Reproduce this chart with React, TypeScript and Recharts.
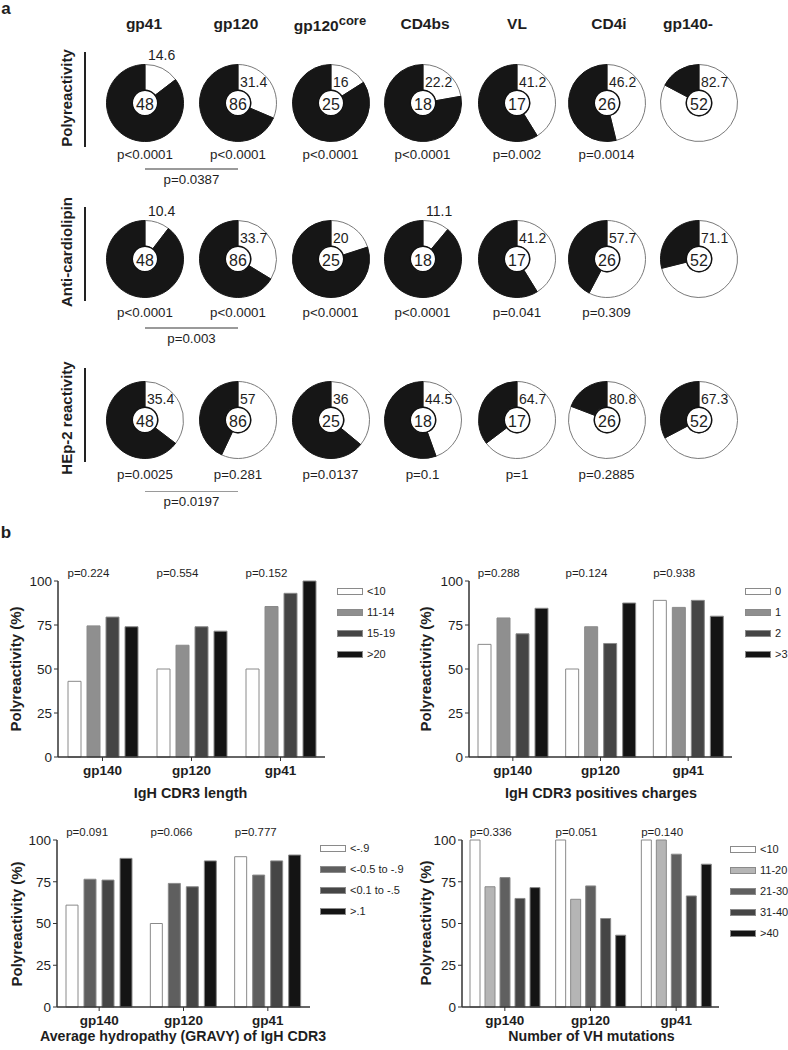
import React from "react";
import { PieChart, Pie, Cell, BarChart, Bar, XAxis, YAxis } from "recharts";

const FONT = 'Arial, "Liberation Sans", Helvetica, sans-serif';

// ---- panel a: donuts ----
const targets = ["gp41", "gp120", "gp120", "CD4bs", "VL", "CD4i", "gp140-"];
const mabCounts = [48, 86, 25, 18, 17, 26, 52];
const polyPct = [14.6, 31.4, 16, 22.2, 41.2, 46.2, 82.7];
const cardioPct = [10.4, 33.7, 20, 11.1, 41.2, 57.7, 71.1];
const hep2Pct = [35.4, 57, 36, 44.5, 64.7, 80.8, 67.3];
const polyP = ["p<0.0001", "p<0.0001", "p<0.0001", "p<0.0001", "p=0.002", "p=0.0014", ""];
const cardioP = ["p<0.0001", "p<0.0001", "p<0.0001", "p<0.0001", "p=0.041", "p=0.309", ""];
const hep2P = ["p=0.0025", "p=0.281", "p=0.0137", "p=0.1", "p=1", "p=0.2885", ""];
const pairP = ["p=0.0387", "p=0.003", "p=0.0197"];
const rowNames = ["Polyreactivity", "Anti-cardiolipin", "HEp-2 reactivity"];

// ---- panel b: bars ----
const groups = ["gp140", "gp120", "gp41"];

const lenNames = ["<10", "11-14", "15-19", ">20"];
const lenLt10 = [43, 50, 50];
const len11to14 = [74.5, 63.5, 85.5];
const len15to19 = [79.5, 74, 93];
const lenGt20 = [74, 71.5, 100];
const lenP = ["p=0.224", "p=0.554", "p=0.152"];

const chargeNames = ["0", "1", "2", ">3"];
const charge0 = [64, 50, 89];
const charge1 = [79, 74, 85];
const charge2 = [70, 64.5, 89];
const chargeGt3 = [84.5, 87.5, 80];
const chargeP = ["p=0.288", "p=0.124", "p=0.938"];

const gravyNames = ["<-.9", "<-0.5 to -.9", "<0.1 to -.5", ">.1"];
const gravyA = [61, 50, 90];
const gravyB = [76.5, 74, 79];
const gravyC = [76, 72, 87.5];
const gravyD = [89, 87.5, 91];
const gravyP = ["p=0.091", "p=0.066", "p=0.777"];

const mutNames = ["<10", "11-20", "21-30", "31-40", ">40"];
const mutLt10 = [100, 100, 100];
const mut11to20 = [72, 64.5, 100];
const mut21to30 = [77.5, 72.5, 91.5];
const mut31to40 = [65, 53, 66.5];
const mutGt40 = [71.5, 43, 85.5];
const mutP = ["p=0.336", "p=0.051", "p=0.140"];

const yTicks = [0, 25, 50, 75, 100];

type TxtProps = {
  x: number;
  y: number;
  size: number;
  bold?: boolean;
  rotate?: boolean;
  children: React.ReactNode;
};

function Txt({ x, y, size, bold, rotate, children }: TxtProps) {
  return (
    <div
      style={{
        position: "absolute",
        left: x,
        top: y,
        transform: `translate(-50%, -50%)${rotate ? " rotate(-90deg)" : ""}`,
        fontSize: size,
        fontWeight: bold ? "bold" : "normal",
        lineHeight: 1.15,
        whiteSpace: "nowrap",
        color: "#1e1e1e",
      }}
    >
      {children}
    </div>
  );
}

function Donut({ cx, cy, pct, n }: { cx: number; cy: number; pct: number; n: number }) {
  const data = [
    { name: "pos", value: pct },
    { name: "neg", value: 100 - pct },
  ];
  const outside = pct < 15;
  const pctLabel = (p: any) => {
    if (p.index !== 0) return null;
    return (
      <text
        x={p.cx + (outside ? 3 : 2)}
        y={p.cy + (outside ? -48 : -21.5)}
        fontSize={14}
        fill="#1e1e1e"
        stroke="none"
        dominantBaseline="central"
        fontFamily={FONT}
      >
        {pct}
      </text>
    );
  };
  const countLabel = (p: any) => (
    <text
      x={p.cx}
      y={p.cy + 1}
      fontSize={16}
      fill="#1e1e1e"
      stroke="none"
      textAnchor="middle"
      dominantBaseline="central"
      fontFamily={FONT}
    >
      {n}
    </text>
  );
  return (
    <div style={{ position: "absolute", left: cx - 60, top: cy - 60 }}>
      <PieChart width={120} height={120} margin={{ top: 0, right: 0, bottom: 0, left: 0 }}>
        <Pie
          data={data}
          dataKey="value"
          cx={60}
          cy={60}
          innerRadius={13}
          outerRadius={38.5}
          startAngle={90}
          endAngle={-270}
          isAnimationActive={false}
          labelLine={false}
          label={pctLabel}
        >
          <Cell fill="#ffffff" stroke="#7a7a7a" strokeWidth={1} />
          <Cell fill="#161616" stroke="#161616" strokeWidth={1} />
        </Pie>
        {/* thin black ring round the centre hole */}
        <Pie
          data={[{ value: n }]}
          dataKey="value"
          cx={60}
          cy={60}
          innerRadius={12}
          outerRadius={13.4}
          startAngle={90}
          endAngle={-270}
          isAnimationActive={false}
          fill="#111"
          stroke="none"
          labelLine={false}
          label={countLabel}
        />
      </PieChart>
    </div>
  );
}

type PanelProps = {
  left: number;
  top: number;
  width: number;
  height: number;
  marginLeft: number;
  names: string[];
  values: number[][];
  colors: string[];
  pvals: string[];
  barSize: number;
  barGap: number;
};

function BarPanel(p: PanelProps) {
  const keys = p.names.map((_, i) => `s${i}`);
  const data = groups.map((g, gi) => {
    const row: Record<string, any> = { group: g };
    keys.forEach((k, ki) => (row[k] = p.values[ki][gi]));
    return row;
  });
  const half = (keys.length * p.barSize + (keys.length - 1) * p.barGap) / 2;
  const pTick = (t: any) => {
    const idx = t.index ?? t.payload?.index ?? 0;
    return (
      <text
        x={t.x - half}
        y={t.y}
        fontSize={11.5}
        fill="#1e1e1e"
        stroke="none"
        style={{ fill: "#1e1e1e" }}
        fontFamily={FONT}
      >
        {p.pvals[idx]}
      </text>
    );
  };
  return (
    <div style={{ position: "absolute", left: p.left, top: p.top }}>
      <BarChart
        width={p.width}
        height={p.height}
        data={data}
        margin={{ top: 21, right: 5, bottom: 0, left: p.marginLeft }}
        barSize={p.barSize}
        barGap={p.barGap}
      >
        <XAxis
          xAxisId="pv"
          orientation="top"
          dataKey="group"
          height={20}
          axisLine={false}
          tickLine={false}
          tickSize={0}
          tickMargin={4}
          interval={0}
          tick={pTick}
        />
        <XAxis
          dataKey="group"
          height={24}
          interval={0}
          tickSize={4}
          tickMargin={4}
          axisLine={{ stroke: "#333", strokeWidth: 1.5 }}
          tickLine={{ stroke: "#333" }}
          tick={{ fontSize: 13.5, fontWeight: "bold", fill: "#1e1e1e", fontFamily: FONT }}
        />
        <YAxis
          type="number"
          width={40}
          domain={[0, 100]}
          ticks={yTicks}
          interval={0}
          tickSize={4}
          tickMargin={2}
          axisLine={{ stroke: "#333", strokeWidth: 1.5 }}
          tickLine={{ stroke: "#333" }}
          tick={{ fontSize: 13.5, fill: "#1e1e1e", fontFamily: FONT }}
        />
        {keys.map((k, i) => (
          <Bar
            key={k}
            dataKey={k}
            name={p.names[i]}
            fill={p.colors[i]}
            stroke="#8a8a8a"
            strokeWidth={1}
            isAnimationActive={false}
          />
        ))}
      </BarChart>
    </div>
  );
}

function Legend({ x, y, names, colors }: { x: number; y: number; names: string[]; colors: string[] }) {
  return (
    <>
      {names.map((nm, i) => (
        <div
          key={nm}
          style={{
            position: "absolute",
            left: x,
            top: y + i * 21 - 7,
            height: 14,
            display: "flex",
            alignItems: "center",
            whiteSpace: "nowrap",
            fontSize: 11,
            color: "#1e1e1e",
          }}
        >
          <div
            style={{
              width: 24,
              height: 5,
              background: colors[i],
              border: "1px solid #8a8a8a",
              marginRight: 4,
            }}
          />
          {nm}
        </div>
      ))}
    </>
  );
}

const colX = [145, 238, 330.5, 422.5, 517, 606.5, 698.5];
const headX = [144, 236, 330, 425, 517, 609, 688];
const rowY = [102.5, 258.5, 419.5];
const pY = [155, 313, 475];
const pairLineY = [168, 327, 490.5];
const pairTextY = [180, 339, 502];
const rowLabelY = [98, 252, 418];
const rowLine = [
  [52, 147],
  [207, 301],
  [368, 462],
];

export default function App() {
  const pcts = [polyPct, cardioPct, hep2Pct];
  const pv = [polyP, cardioP, hep2P];
  const lenColors = ["#ffffff", "#8f8f8f", "#454545", "#141414"];
  const gravyColors = ["#ffffff", "#5f5f5f", "#464646", "#141414"];
  const mutColors = ["#ffffff", "#b5b5b5", "#606060", "#454545", "#141414"];
  return (
    <div
      style={{
        position: "absolute",
        left: 0,
        top: 0,
        width: 788,
        height: 1050,
        background: "#fff",
        fontFamily: FONT,
        overflow: "hidden",
      }}
    >
      <Txt x={6} y={9} size={17} bold>
        a
      </Txt>
      {targets.map((t, i) => (
        <Txt key={i} x={headX[i]} y={24} size={15.5} bold>
          {t}
          {i === 2 ? <sup style={{ fontSize: 13, verticalAlign: "6px" }}>core</sup> : null}
        </Txt>
      ))}
      {rowNames.map((r, ri) => (
        <React.Fragment key={r}>
          <Txt x={67} y={rowLabelY[ri]} size={15} bold rotate>
            {r}
          </Txt>
          <div
            style={{
              position: "absolute",
              left: 84,
              top: rowLine[ri][0],
              width: 1.5,
              height: rowLine[ri][1] - rowLine[ri][0],
              background: "#222",
            }}
          />
          {colX.map((cx, ci) => (
            <Donut key={ci} cx={cx} cy={rowY[ri]} pct={pcts[ri][ci]} n={mabCounts[ci]} />
          ))}
          {colX.map((cx, ci) =>
            pv[ri][ci] ? (
              <Txt key={"p" + ci} x={cx} y={pY[ri]} size={13.3}>
                {pv[ri][ci]}
              </Txt>
            ) : null
          )}
          <div
            style={{
              position: "absolute",
              left: colX[0],
              top: pairLineY[ri],
              width: colX[1] - colX[0],
              height: 1.5,
              background: "#9a9a9a",
            }}
          />
          <Txt x={191.5} y={pairTextY[ri]} size={13.3}>
            {pairP[ri]}
          </Txt>
        </React.Fragment>
      ))}

      <Txt x={6} y={533} size={17} bold>
        b
      </Txt>

      {/* IgH CDR3 length */}
      <BarPanel
        left={0}
        top={540}
        width={330}
        height={241}
        marginLeft={18}
        names={lenNames}
        values={[lenLt10, len11to14, len15to19, lenGt20]}
        colors={lenColors}
        pvals={lenP}
        barSize={13}
        barGap={6}
      />
      <Txt x={16} y={669} size={15} bold rotate>
        Polyreactivity (%)
      </Txt>
      <Txt x={190.5} y={793} size={14.4} bold>
        IgH CDR3 length
      </Txt>
      <Legend x={337} y={591} names={lenNames} colors={lenColors} />

      {/* IgH CDR3 positive charges */}
      <BarPanel
        left={411}
        top={540}
        width={326}
        height={241}
        marginLeft={18}
        names={chargeNames}
        values={[charge0, charge1, charge2, chargeGt3]}
        colors={lenColors}
        pvals={chargeP}
        barSize={13}
        barGap={6}
      />
      <Txt x={425.5} y={669} size={15} bold rotate>
        Polyreactivity (%)
      </Txt>
      <Txt x={601} y={793} size={14.4} bold>
        IgH CDR3 positives charges
      </Txt>
      <Legend x={745} y={591} names={chargeNames} colors={lenColors} />

      {/* GRAVY */}
      <BarPanel
        left={0}
        top={799}
        width={315}
        height={232}
        marginLeft={17}
        names={gravyNames}
        values={[gravyA, gravyB, gravyC, gravyD]}
        colors={gravyColors}
        pvals={gravyP}
        barSize={12}
        barGap={6}
      />
      <Txt x={16.5} y={923.5} size={15} bold rotate>
        Polyreactivity (%)
      </Txt>
      <Txt x={183} y={1036} size={14.2} bold>
        Average hydropathy (GRAVY) of IgH CDR3
      </Txt>
      <Legend x={320} y={848} names={gravyNames} colors={gravyColors} />

      {/* VH mutations */}
      <BarPanel
        left={404}
        top={799}
        width={320}
        height={232}
        marginLeft={18}
        names={mutNames}
        values={[mutLt10, mut11to20, mut21to30, mut31to40, mutGt40]}
        colors={mutColors}
        pvals={mutP}
        barSize={10}
        barGap={5}
      />
      <Txt x={425.5} y={923} size={15} bold rotate>
        Polyreactivity (%)
      </Txt>
      <Txt x={591.5} y={1036} size={14.2} bold>
        Number of VH mutations
      </Txt>
      <Legend x={730} y={849} names={mutNames} colors={mutColors} />
    </div>
  );
}
